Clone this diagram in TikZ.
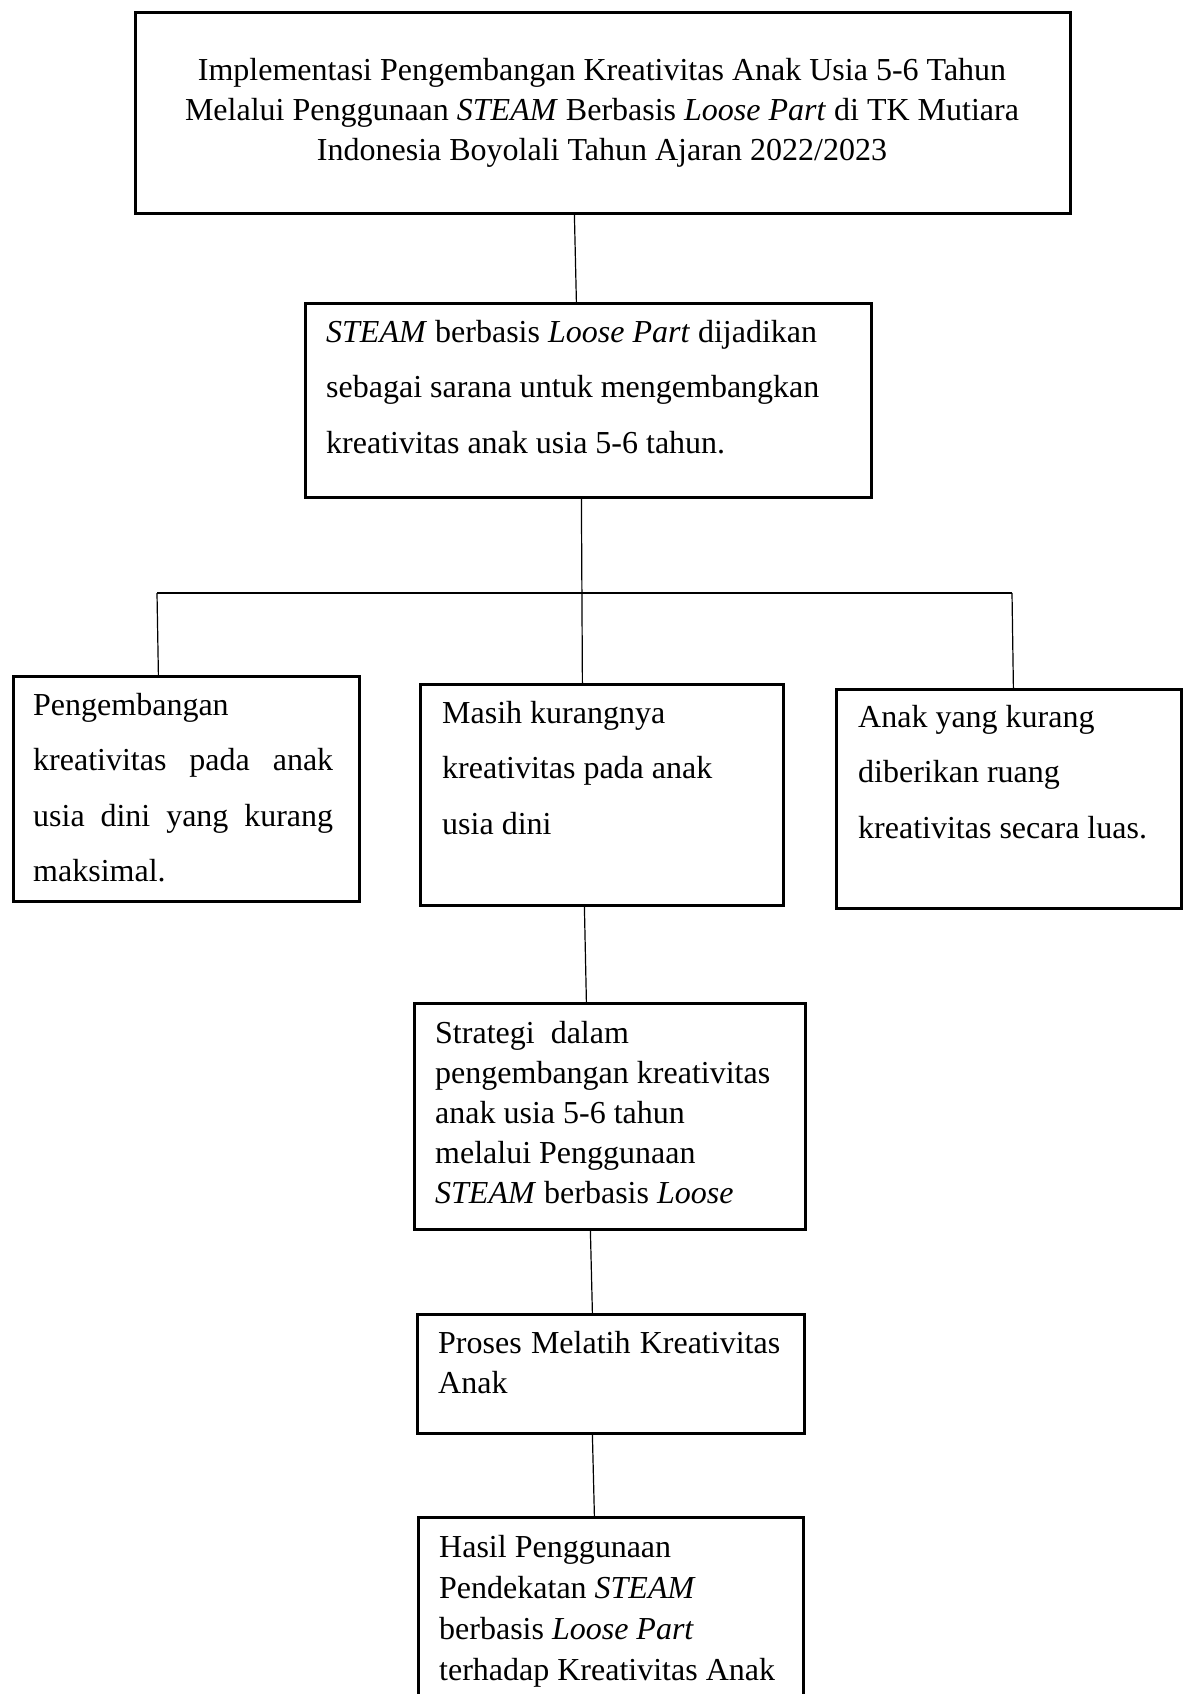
\documentclass[tikz,border=0pt]{standalone}
\usepackage{fontspec}
\setmainfont{Liberation Serif}
\begin{document}
\begin{tikzpicture}[x=1pt,y=-1pt,
  box/.style={draw, line width=2.8pt, rectangle, inner sep=0pt, anchor=north west},
  conn/.style={line width=1.2pt},
  txt/.style={inner sep=0pt, anchor=base west, align=left},
  single/.style={font=\fontsize{32}{40}\selectfont},
  double/.style={font=\fontsize{32}{55.5}\selectfont},
]
\useasboundingbox (0,0) rectangle (1184,1694);
\clip (0,0) rectangle (1184,1694);
% boxes
\node[box, minimum width=935pt, minimum height=201pt] (b1) at (134,11) {};
\node[box, minimum width=566pt, minimum height=194pt] (b2) at (304,302) {};
\node[box, minimum width=346pt, minimum height=225pt] (b3) at (12,675) {};
\node[box, minimum width=363pt, minimum height=221pt] (b4) at (419,683) {};
\node[box, minimum width=345pt, minimum height=219pt] (b5) at (835,688) {};
\node[box, minimum width=391pt, minimum height=226pt] (b6) at (413,1002) {};
\node[box, minimum width=387pt, minimum height=119pt] (b7) at (416,1313) {};
\node[box, minimum width=385pt, minimum height=214pt] (b8) at (417,1516) {};
% texts (anchor = baseline of the last line)
\node[single, inner sep=0pt, anchor=base, align=center] (t1) at (602,160)
  {Implementasi Pengembangan Kreativitas Anak Usia 5-6 Tahun\\
   Melalui Penggunaan \textit{STEAM} Berbasis \textit{Loose Part} di TK Mutiara\\
   Indonesia Boyolali Tahun Ajaran 2022/2023};
\node[txt, double] (t2) at (326,453)
  {\textit{STEAM} berbasis \textit{Loose Part} dijadikan\\
   sebagai sarana untuk mengembangkan\\
   kreativitas anak usia 5-6 tahun.};
\node[txt, double] (t3) at (33,881.5)
  {Pengembangan\\
   \makebox[300pt][s]{kreativitas pada anak}\\
   \makebox[300pt][s]{usia dini yang kurang}\\
   maksimal.};
\node[txt, double] (t4) at (442,834)
  {Masih kurangnya\\
   kreativitas pada anak\\
   usia dini};
\node[txt, double] (t5) at (858,838)
  {Anak yang kurang\\
   diberikan ruang\\
   kreativitas secara luas.};
\node[txt, single] (t6) at (435,1203)
  {Strategi\ \ dalam\\
   pengembangan kreativitas\\
   anak usia 5-6 tahun\\
   melalui Penggunaan\\
   \textit{STEAM} berbasis \textit{Loose}};
\node[txt, single] (t7) at (438,1393)
  {\makebox[342pt][s]{Proses Melatih Kreativitas}\\
   Anak};
\node[txt, font=\fontsize{32}{40.7}\selectfont] (t8) at (439,1680)
  {Hasil Penggunaan\\
   Pendekatan \textit{STEAM}\\
   berbasis \textit{Loose Part}\\
   terhadap Kreativitas Anak};
% connectors
\coordinate (jl) at (157,593);
\coordinate (jr) at (1012,593);
\draw[conn] ([xshift=-28.5pt]b1.south) -- ([xshift=-12pt]b2.north);
\draw[conn] ([xshift=-7pt]b2.south) -- ([xshift=-19.5pt]b4.north);
\draw[conn] (jl) -- (jr);
\draw[conn] (jl) -- ([xshift=-28pt]b3.north);
\draw[conn] (jr) -- ([xshift=4.5pt]b5.north);
\draw[conn] ([xshift=-17.5pt]b4.south) -- ([xshift=-23.5pt]b6.north);
\draw[conn] ([xshift=-19.5pt]b6.south) -- ([xshift=-18.5pt]b7.north);
\draw[conn] ([xshift=-18.5pt]b7.south) -- ([xshift=-16.5pt]b8.north);
\end{tikzpicture}
\end{document}
